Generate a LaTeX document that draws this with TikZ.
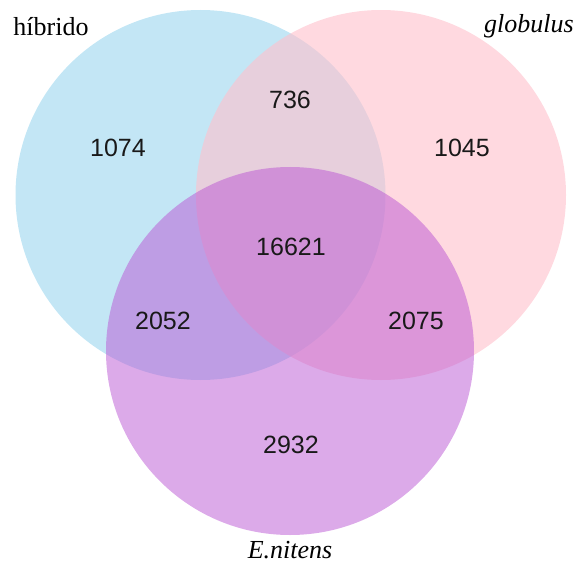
\documentclass[tikz,border=0pt]{standalone}
\usepackage{fontspec}
\setmainfont{Liberation Serif}
\newfontfamily\numfont{Liberation Sans}
\begin{document}
\begin{tikzpicture}[x=1pt,y=-1pt,
  setcircle/.style={fill opacity=#1},
  count/.style={font=\numfont\fontsize{25}{30}\selectfont, inner sep=0pt, text=black!90},
  setlabel/.style={font=\fontsize{26}{30}\selectfont, inner sep=0pt, anchor=base}]
\useasboundingbox (0,0) rectangle (581,567);
\definecolor{cblue}{RGB}{135,206,235}
\definecolor{cpink}{RGB}{255,192,203}
\definecolor{cpurple}{RGB}{186,85,211}
\fill[cblue, fill opacity=0.5] (200.5,195) circle (185);
\fill[cpink, fill opacity=0.6] (381,195) circle (185);
\fill[cpurple, fill opacity=0.5] (290,351) circle (184);
\node[count] (a) at (118,148) {1074};
\node[count] (ab) at (290,100) {736};
\node[count] (b) at (462,148) {1045};
\node[count] (abc) at (291,247) {16621};
\node[count] (ac) at (163,321) {2052};
\node[count] (bc) at (416,321) {2075};
\node[count] (c) at (291,445) {2932};
\node[setlabel] (la) at (51,36) {híbrido};
\node[setlabel] (lb) at (529,33) {\itshape globulus};
\node[setlabel] (lc) at (290,558) {\itshape E.nitens};
\end{tikzpicture}
\end{document}
